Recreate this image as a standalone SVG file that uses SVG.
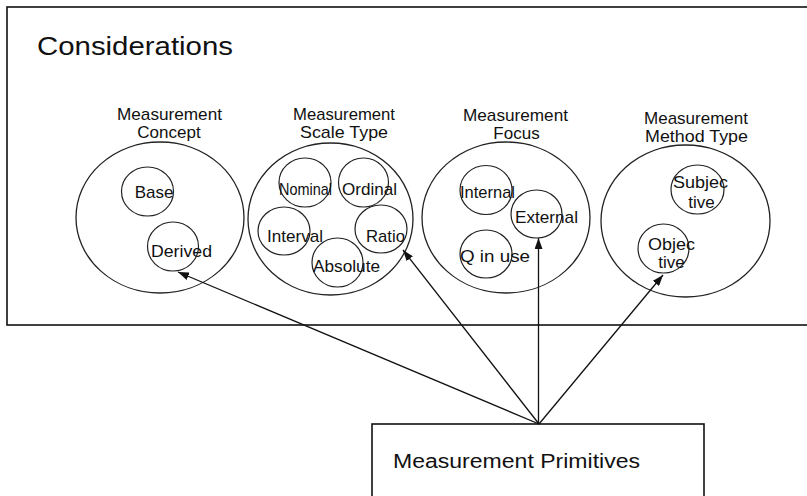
<svg xmlns="http://www.w3.org/2000/svg" width="807" height="496" viewBox="0 0 807 496">
<style>
.box{fill:#fff;stroke:#111;stroke-width:1.6}
.outer{fill:none;stroke:#222;stroke-width:1.3}
.inner{fill:none;stroke:#222;stroke-width:1.2}
.t{font-family:"Liberation Sans",Arial,sans-serif;font-size:17px;fill:#111;text-anchor:middle}
.big{font-family:"Liberation Sans",Arial,sans-serif;font-size:25px;fill:#111}
.prim{font-family:"Liberation Sans",Arial,sans-serif;font-size:20px;fill:#111}
.conn{stroke:#111;stroke-width:1.3;fill:none;marker-end:url(#ah)}
</style>
<defs>
<marker id="ah" markerUnits="userSpaceOnUse" markerWidth="12" markerHeight="8" refX="11" refY="4" orient="auto">
<path d="M0,0 L11,4 L0,8 z" fill="#111"/>
</marker>
</defs>
<rect width="807" height="496" fill="#fff"/>
<g id="considerations">
<rect class="box" x="7" y="7" width="810" height="318"/>
<text class="big" x="37" y="55" textLength="196" lengthAdjust="spacingAndGlyphs">Considerations</text>
</g>
<g id="concept">
<text class="t" x="169.5" y="120" textLength="105" lengthAdjust="spacingAndGlyphs">Measurement</text>
<text class="t" x="169" y="137.5">Concept</text>
<ellipse class="outer" cx="160" cy="217.5" rx="84" ry="75.5"/>
<g id="base"><ellipse class="inner" cx="147.5" cy="191.5" rx="26" ry="24.5"/><text class="t" x="154" y="198">Base</text></g>
<g id="derived"><ellipse class="inner" cx="173" cy="246.5" rx="25.5" ry="24.5"/><text class="t" x="181.5" y="257" textLength="61" lengthAdjust="spacingAndGlyphs">Derived</text></g>
</g>
<g id="scale">
<text class="t" x="344" y="120" textLength="102" lengthAdjust="spacingAndGlyphs">Measurement</text>
<text class="t" x="344" y="138" textLength="88" lengthAdjust="spacingAndGlyphs">Scale Type</text>
<ellipse class="outer" cx="330.5" cy="219" rx="82.5" ry="76"/>
<g id="nominal"><ellipse class="inner" cx="305" cy="182.5" rx="26" ry="24.5"/><text class="t" x="305.5" y="195" textLength="53" lengthAdjust="spacingAndGlyphs">Nominal</text></g>
<g id="ordinal"><ellipse class="inner" cx="363.5" cy="182.5" rx="25" ry="24.5"/><text class="t" x="369.5" y="195" textLength="55" lengthAdjust="spacingAndGlyphs">Ordinal</text></g>
<g id="interval"><ellipse class="inner" cx="284" cy="231" rx="26" ry="24"/><text class="t" x="295" y="242" textLength="56" lengthAdjust="spacingAndGlyphs">Interval</text></g>
<g id="ratio"><ellipse class="inner" cx="381" cy="229" rx="26" ry="24"/><text class="t" x="385.5" y="242" textLength="39" lengthAdjust="spacingAndGlyphs">Ratio</text></g>
<g id="absolute"><ellipse class="inner" cx="337.5" cy="262.5" rx="25.5" ry="24.5"/><text class="t" x="346.5" y="272" textLength="67" lengthAdjust="spacingAndGlyphs">Absolute</text></g>
</g>
<g id="focus">
<text class="t" x="515.5" y="120.5" textLength="105" lengthAdjust="spacingAndGlyphs">Measurement</text>
<text class="t" x="516.5" y="138.5">Focus</text>
<ellipse class="outer" cx="506" cy="217.5" rx="84" ry="75.5"/>
<g id="internal"><ellipse class="inner" cx="486" cy="190" rx="26" ry="24.5"/><text class="t" x="487.5" y="198" textLength="55" lengthAdjust="spacingAndGlyphs">Internal</text></g>
<g id="external"><ellipse class="inner" cx="536.5" cy="214" rx="25.5" ry="24"/><text class="t" x="546.5" y="223" textLength="63" lengthAdjust="spacingAndGlyphs">External</text></g>
<g id="qinuse"><ellipse class="inner" cx="486" cy="254" rx="26" ry="24"/><text class="t" x="495" y="262" textLength="70" lengthAdjust="spacingAndGlyphs">Q in use</text></g>
</g>
<g id="method">
<text class="t" x="696" y="124" textLength="104" lengthAdjust="spacingAndGlyphs">Measurement</text>
<text class="t" x="696.5" y="142" textLength="103" lengthAdjust="spacingAndGlyphs">Method Type</text>
<ellipse class="outer" cx="685.5" cy="221" rx="84.5" ry="76"/>
<g id="subjective"><ellipse class="inner" cx="697.5" cy="189.5" rx="26.5" ry="24.5"/><text class="t" x="700.5" y="188" textLength="55" lengthAdjust="spacingAndGlyphs">Subjec</text><text class="t" x="701.5" y="208">tive</text></g>
<g id="objective"><ellipse class="inner" cx="663.5" cy="248.5" rx="25.5" ry="24.5"/><text class="t" x="671.5" y="249.5" textLength="47" lengthAdjust="spacingAndGlyphs">Objec</text><text class="t" x="671.5" y="267.5">tive</text></g>
</g>
<g id="primitives">
<rect class="box" x="372" y="424" width="332" height="80"/>
<text class="prim" x="393" y="468" textLength="247" lengthAdjust="spacingAndGlyphs">Measurement Primitives</text>
</g>
<g id="connectors">
<line class="conn" x1="539" y1="424" x2="178" y2="272"/>
<line class="conn" x1="539" y1="424" x2="403" y2="250"/>
<line class="conn" x1="538.5" y1="424" x2="538.5" y2="238"/>
<line class="conn" x1="539" y1="424" x2="663" y2="275"/>
</g>
</svg>
